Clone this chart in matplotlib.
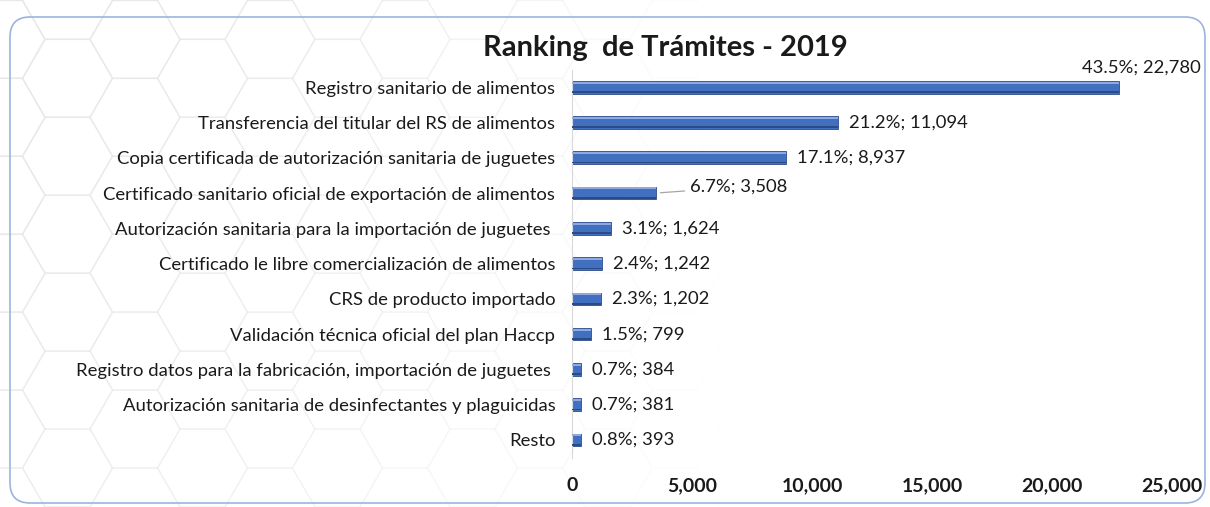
import numpy as np
import matplotlib
matplotlib.use('Agg')
import matplotlib.pyplot as plt
from matplotlib.patches import RegularPolygon, FancyBboxPatch

tramites = ['Registro sanitario de alimentos',
            'Transferencia del titular del RS de alimentos',
            'Copia certificada de autorización sanitaria de juguetes',
            'Certificado sanitario oficial de exportación de alimentos',
            'Autorización sanitaria para la importación de juguetes ',
            'Certificado le libre comercialización de alimentos',
            'CRS de producto importado',
            'Validación técnica oficial del plan Haccp',
            'Registro datos para la fabricación, importación de juguetes ',
            'Autorización sanitaria de desinfectantes y plaguicidas',
            'Resto']
cantidad = [22780, 11094, 8937, 3508, 1624, 1242, 1202, 799, 384, 381, 393]
porcentaje = [43.5, 21.2, 17.1, 6.7, 3.1, 2.4, 2.3, 1.5, 0.7, 0.7, 0.8]
xticks = [0, 5000, 10000, 15000, 20000, 25000]

plt.rcParams['font.family'] = ['Lato', 'DejaVu Sans']
txt_color = '#1a1a1a'
fs = 13.3

fig = plt.figure(figsize=(12.1, 5.07), dpi=100)
fig.patch.set_facecolor('white')

# faint honeycomb background, fading out to the right (inches coords)
r = 0.45
for i in range(-1, 20):
    for j in range(-1, 9):
        cx = i * 1.5 * r
        cy = j * np.sqrt(3) * r + (i % 2) * np.sqrt(3) * r / 2
        a = min(1.0, max(0.0, 1 - cx / 7.0)) * (0.5 + 0.5 * min(1, max(0, cy / 5.0)))
        if a <= 0:
            continue
        fig.patches.append(RegularPolygon((cx, cy), 6, radius=r,
                                          orientation=np.pi / 6,
                                          transform=fig.dpi_scale_trans,
                                          fill=False, ec='#e8e8e8', lw=1.0,
                                          alpha=a, zorder=-3))

# rounded panel border
fig.patches.append(FancyBboxPatch((0.10, 0.04), 11.95, 4.86,
                                  boxstyle='round,pad=0,rounding_size=0.2',
                                  transform=fig.dpi_scale_trans,
                                  fill=False, ec='#9bb4e0', lw=1.2, zorder=-2))

ax = fig.add_axes([572 / 1210, 1 - 457.6 / 507, 600 / 1210, 388 / 507])
ax.patch.set_alpha(0)

y = np.arange(len(tramites))
h = 0.36
ax.barh(y, cantidad, height=h, color='#4270c0', edgecolor='#2b4c8c',
        linewidth=0.6, zorder=2)
# bevel highlight and shadow
ax.barh(y - h * 0.36, cantidad, height=h * 0.16, color='#8eaae0',
        linewidth=0, zorder=3)
ax.barh(y + h * 0.38, cantidad, height=h * 0.14, color='#2a4a88',
        linewidth=0, zorder=3)

for i, (v, p) in enumerate(zip(cantidad, porcentaje)):
    lbl = '{:.1f}%; {:,}'.format(p, v)
    if i == 0:
        ax.annotate(lbl, (v, i), xytext=(-37, 20), textcoords='offset pixels',
                    ha='left', va='center', fontsize=fs, color=txt_color)
    elif i == 3:
        ax.annotate(lbl, (v, i), xytext=(34, 6), textcoords='offset pixels',
                    ha='left', va='center', fontsize=fs, color=txt_color,
                    arrowprops=dict(arrowstyle='-', color='#a6a6a6', lw=0.9,
                                    shrinkA=2, shrinkB=3))
    else:
        ax.annotate(lbl, (v, i), xytext=(11, 0), textcoords='offset pixels',
                    ha='left', va='center', fontsize=fs, color=txt_color)

ax.set_ylim(len(tramites) - 0.5, -0.5)
ax.set_xlim(0, 25000)
ax.set_yticks(y)
ax.set_yticklabels(tramites, fontsize=fs, color=txt_color)
ax.set_xticks(xticks)
ax.set_xticklabels(['{:,}'.format(t) for t in xticks], fontsize=14,
                   fontweight='bold', color=txt_color)
ax.tick_params(axis='y', length=0, pad=12)
ax.tick_params(axis='x', length=0, pad=14)
for s in ['top', 'right', 'bottom']:
    ax.spines[s].set_visible(False)
ax.spines['left'].set_color('#d9d9d9')

fig.text(665 / 1210, 1 - 48 / 507, 'Ranking  de Trámites - 2019',
         ha='center', va='center', fontsize=21, fontweight='bold',
         color=txt_color)

fig.savefig('out.png', dpi=100)
